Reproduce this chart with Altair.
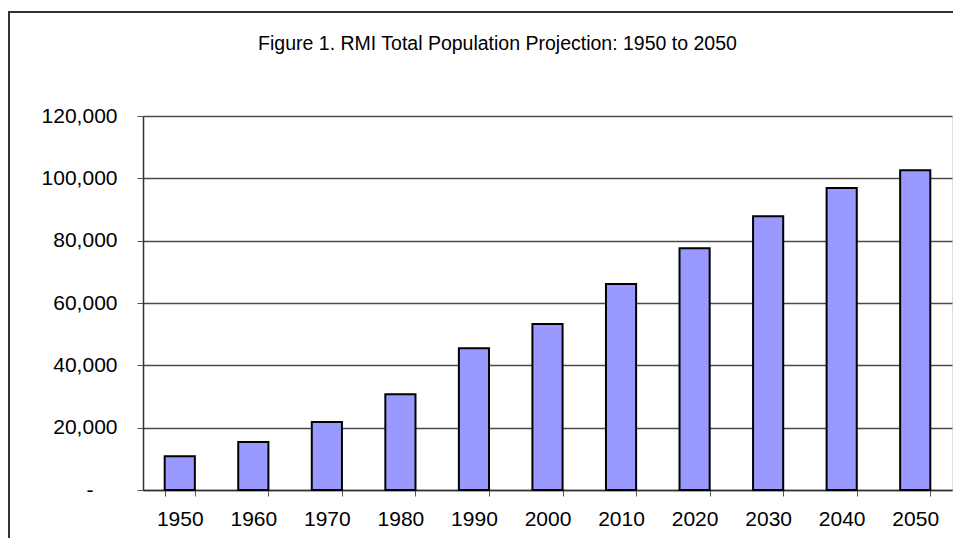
import altair as alt
import pandas as pd

years = ["1950", "1960", "1970", "1980", "1990", "2000", "2010", "2020", "2030", "2040", "2050"]
population = [10800, 15400, 21800, 30700, 45500, 53300, 66100, 77600, 87800, 96900, 102600]
y_ticks = [0, 20000, 40000, 60000, 80000, 100000, 120000]
title_text = "Figure 1. RMI Total Population Projection: 1950 to 2050"

df = pd.DataFrame({"year": years, "population": population})

FONT = "Liberation Sans"

bars = alt.Chart(df).mark_bar(color="#9999FF", stroke="black", strokeWidth=2).encode(
    x=alt.X(
        "year:N", sort=years, title=None,
        scale=alt.Scale(paddingInner=0.59, paddingOuter=0.295),
        axis=alt.Axis(
            labelAngle=0, tickBand="extent", tickSize=6, tickColor="#555555",
            domainColor="#333333", domainWidth=1.5, labelFontSize=21, labelFont=FONT,
            labelColor="black", labelPadding=12, grid=False,
        ),
    ),
    y=alt.Y(
        "population:Q", title=None,
        scale=alt.Scale(domain=[0, 120000], nice=False),
        axis=alt.Axis(
            values=y_ticks,
            labelExpr="datum.value == 0 ? '-' : format(datum.value, ',')",
            tickSize=6, tickColor="#555555", domainColor="#333333", domainWidth=1.5,
            labelFontSize=21, labelFont=FONT, labelColor="black",
            labelPadding={"condition": {"test": "datum.value == 0", "value": 44}, "value": 20},
            grid=True, gridColor="#4a4a4a", gridWidth=1.3,
        ),
    ),
)

frame_df = pd.DataFrame({"k": [0]})
frame_left = alt.Chart(frame_df).mark_rule(color="#333333", strokeWidth=2).encode(
    x=alt.value(-134), y=alt.value(-104), y2=alt.value(422)
)
frame_top = alt.Chart(frame_df).mark_rule(color="#333333", strokeWidth=2).encode(
    x=alt.value(-135), x2=alt.value(810), y=alt.value(-104)
)

chart = alt.layer(bars, frame_left, frame_top).properties(
    width=809,
    height=374,
    autosize=alt.AutoSizeParams(type="none"),
    padding={"left": 135, "top": 108, "right": 1, "bottom": 48},
    title=alt.TitleParams(
        text=title_text, font=FONT, fontSize=19.5, fontWeight="normal",
        color="black", anchor="middle", dx=-50, offset=-58, baseline="alphabetic",
    ),
).configure_view(
    fill="#C0C0C0", stroke="#808080", strokeWidth=1.2
).configure(background="white")

chart.save("out.html", embed_options={"renderer": "svg", "actions": False})
